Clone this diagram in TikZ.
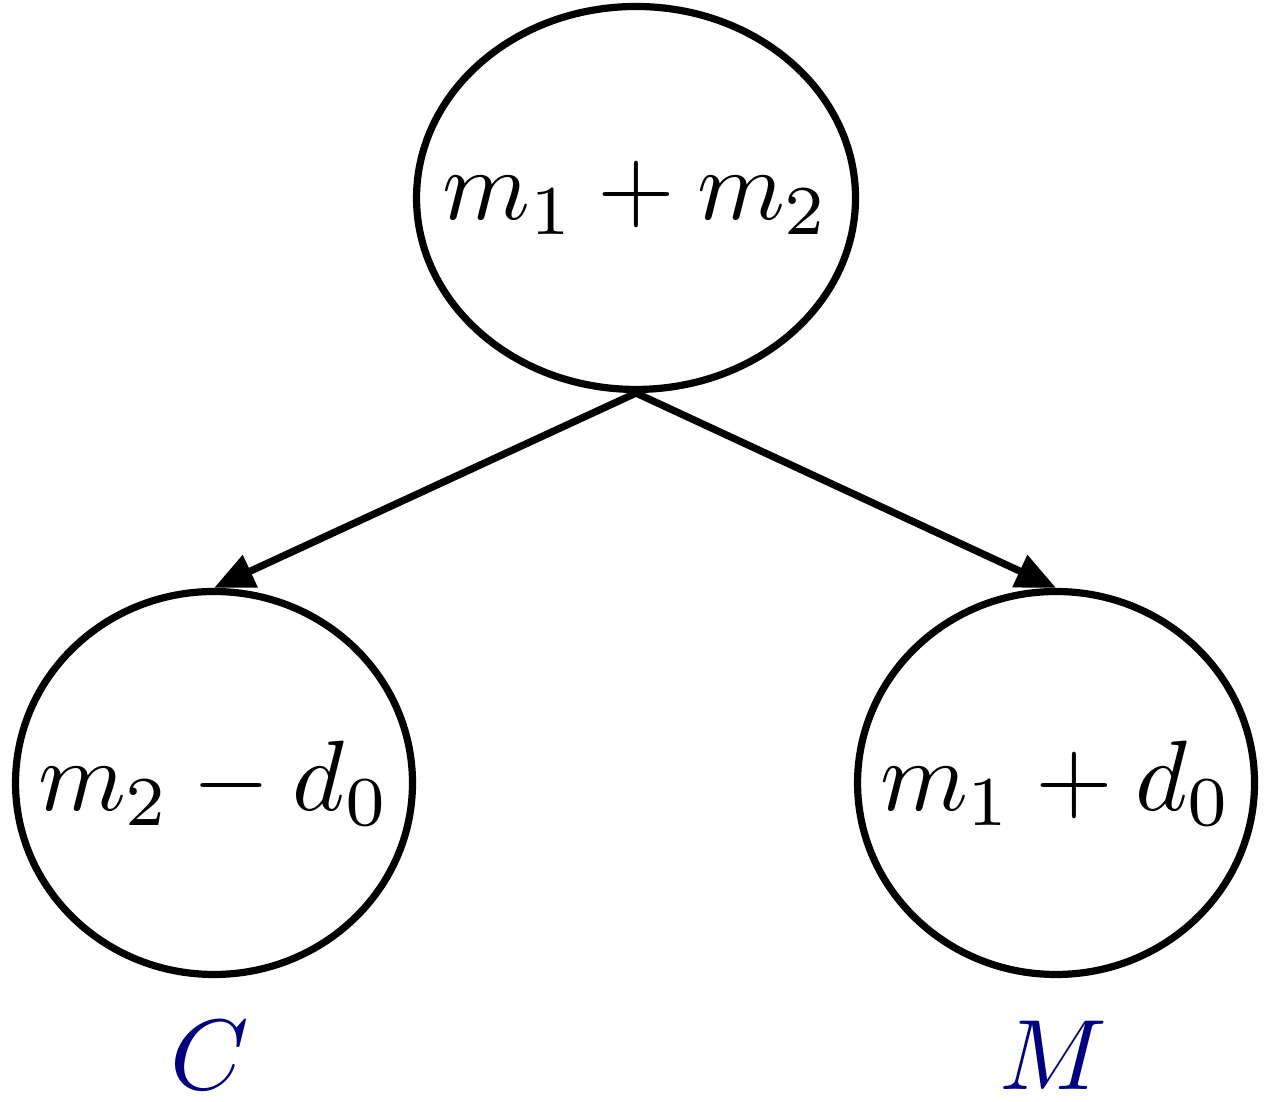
\documentclass[tikz,border=0pt]{standalone}
\usetikzlibrary{shapes.geometric,arrows.meta}
\definecolor{labelnavy}{RGB}{0,0,128}
\begin{document}
\begin{tikzpicture}[x=0.1pt,y=-0.1pt,line width=0.72pt,
  circnode/.style={draw,ellipse,inner sep=0pt,minimum height=38.3pt},
  txt/.style={inner sep=0pt},
  arr/.style={-{Triangle[length=4pt,width=3.4pt]}},
  lbl/.style={text=labelnavy,inner sep=0pt}]
\useasboundingbox (0,0) rectangle (1266,1102);
\node[circnode,minimum width=43.9pt] (top) at (636,198) {};
\node[circnode,minimum width=39.7pt] (left) at (214,783) {};
\node[circnode,minimum width=39.7pt] (right) at (1056,783) {};
\node[txt] (toptxt) at (top.center) {$m_1+m_2$};
\node[txt] (lefttxt) at (left.center) {$m_2-d_0$};
\node[txt] (righttxt) at (right.center) {$m_1+d_0$};
\node[lbl] (lc) at (210,1055) {$C$};
\node[lbl] (lm) at (1053,1055) {$M$};
\draw[arr] (top.south) -- (left.north);
\draw[arr] (top.south) -- (right.north);
\end{tikzpicture}
\end{document}
